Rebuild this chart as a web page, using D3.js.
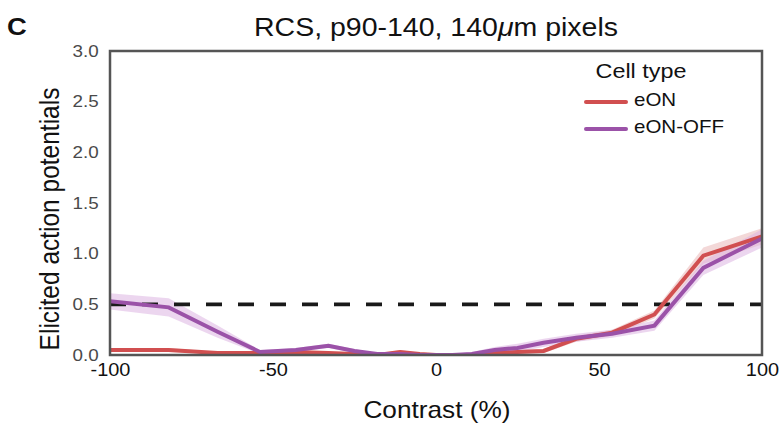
<!DOCTYPE html>
<html>
<head>
<meta charset="utf-8">
<script src="https://cdn.jsdelivr.net/npm/d3@7"></script>
<style>
  html, body { margin: 0; padding: 0; background: #fff; }
  svg { display: block; font-family: "Liberation Sans", Arial, Helvetica, sans-serif; }
</style>
</head>
<body>
<svg id="chart" width="784" height="428"></svg>
<script>
// ---- data ----
const contrasts = [-100, -82, -67, -54, -43, -33, -25, -18, -11, -5, 0, 5, 11, 18, 25, 33, 43, 54, 67, 82, 100];
const eonMean    = [0.05, 0.05, 0.02, 0.02, 0.03, 0.02, 0.01, 0.00, 0.03, 0.01, 0.00, 0.00, 0.00, 0.02, 0.03, 0.04, 0.16, 0.22, 0.40, 0.98, 1.17];
const eonSem     = [0.02, 0.02, 0.01, 0.01, 0.01, 0.01, 0.01, 0.01, 0.02, 0.01, 0.01, 0.01, 0.01, 0.02, 0.02, 0.02, 0.03, 0.03, 0.04, 0.08, 0.08];
const eonOffMean = [0.53, 0.47, 0.23, 0.03, 0.05, 0.09, 0.04, 0.01, 0.01, 0.00, 0.00, 0.00, 0.01, 0.05, 0.07, 0.12, 0.17, 0.21, 0.29, 0.86, 1.15];
const eonOffSem  = [0.08, 0.09, 0.06, 0.02, 0.02, 0.02, 0.02, 0.01, 0.01, 0.01, 0.01, 0.01, 0.02, 0.03, 0.04, 0.04, 0.04, 0.04, 0.05, 0.07, 0.09];
const threshold = 0.5;
const xTicks = [-100, -50, 0, 50, 100];
const yTicks = [0, 0.5, 1.0, 1.5, 2.0, 2.5, 3.0];
const seriesNames = ["eON", "eON-OFF"];
const seriesColors = ["#d14f50", "#9b52a8"];
const bandColors = ["#eab8b8", "#dcb5e2"];

// ---- layout ----
const SX = 1.14; // horizontal text stretch seen in the reference
const svg = d3.select("#chart");
const L = 110, R = 762, T = 51, B = 355;
const x = d3.scaleLinear().domain([-100, 100]).range([L, R]);
const y = d3.scaleLinear().domain([0, 3]).range([B, T]);

const series = [
  { name: seriesNames[0], mean: eonMean, sem: eonSem, color: seriesColors[0], band: bandColors[0] },
  { name: seriesNames[1], mean: eonOffMean, sem: eonOffSem, color: seriesColors[1], band: bandColors[1] }
];

svg.append("clipPath").attr("id", "clip")
  .append("rect").attr("x", L).attr("y", T).attr("width", R - L).attr("height", B - T);

const plot = svg.append("g").attr("clip-path", "url(#clip)");

const area = d3.area()
  .x((d, i) => x(contrasts[i]))
  .y0(d => y(d[0]))
  .y1(d => y(d[1]));
const line = d3.line()
  .x((d, i) => x(contrasts[i]))
  .y(d => y(d));

series.forEach(s => {
  const bandData = s.mean.map((m, i) => [Math.max(0, m - s.sem[i]), m + s.sem[i]]);
  plot.append("path").datum(bandData)
    .attr("d", area)
    .attr("fill", s.band)
    .attr("fill-opacity", 0.55);
});

// threshold dashed line
plot.append("line")
  .attr("x1", x(-100)).attr("x2", x(100))
  .attr("y1", y(threshold)).attr("y2", y(threshold))
  .attr("stroke", "#1a1a1a").attr("stroke-width", 3.8)
  .attr("stroke-dasharray", "16,16");

series.forEach(s => {
  plot.append("path").datum(s.mean)
    .attr("d", line)
    .attr("fill", "none")
    .attr("stroke", s.color)
    .attr("stroke-width", 4)
    .attr("stroke-linejoin", "miter");
});

// frame
svg.append("rect")
  .attr("x", L).attr("y", T).attr("width", R - L).attr("height", B - T)
  .attr("fill", "none").attr("stroke", "#555").attr("stroke-width", 2.5);

// y axis
const yAxis = d3.axisLeft(y).tickValues(yTicks).tickFormat(d3.format(".1f")).tickSize(0).tickPadding(10);
const gy = svg.append("g").attr("transform", `translate(${L},0)`).call(yAxis);
gy.select(".domain").remove();
gy.selectAll("text").attr("font-size", 16.5).attr("fill", "#4a4a4a")
  .attr("font-family", "'Liberation Sans', Arial, sans-serif")
  .attr("transform", `scale(${SX},1)`);

// x axis
const xAxis = d3.axisBottom(x).tickValues(xTicks).tickFormat(d => String(d)).tickSize(0).tickPadding(9);
const gx = svg.append("g").attr("transform", `translate(0,${B})`).call(xAxis);
gx.select(".domain").remove();
gx.selectAll("text").attr("font-size", 17.5).attr("fill", "#111")
  .attr("font-family", "'Liberation Sans', Arial, sans-serif")
  .attr("transform", `scale(${SX},1)`);

// helper for stretched text
function stext(px, py, size, anchor) {
  return svg.append("text")
    .attr("transform", `translate(${px},${py}) scale(${SX},1)`)
    .attr("text-anchor", anchor).attr("font-size", size).attr("fill", "#111");
}

stext(7, 35, 24, "start").attr("font-weight", "bold").text("C");

const title = stext(436, 35.5, 25, "middle");
title.append("tspan").text("RCS, p90-140, 140");
title.append("tspan").attr("font-style", "italic").text("μ");
title.append("tspan").text("m pixels");

svg.append("text")
  .attr("transform", `translate(59,219) rotate(-90) scale(1,${SX})`)
  .attr("text-anchor", "middle").attr("font-size", 24.5).attr("fill", "#111")
  .text("Elicited action potentials");

stext(437, 418, 23, "middle").text("Contrast (%)");

// legend
stext(641, 78, 20.5, "middle").text("Cell type");
series.forEach((s, i) => {
  const yy = 102 + i * 27;
  svg.append("line").attr("x1", 586).attr("x2", 626).attr("y1", yy).attr("y2", yy)
    .attr("stroke", s.color).attr("stroke-width", 4).attr("stroke-linecap", "round");
  stext(634, yy + 4, 18, "start").text(s.name);
});
</script>
</body>
</html>
